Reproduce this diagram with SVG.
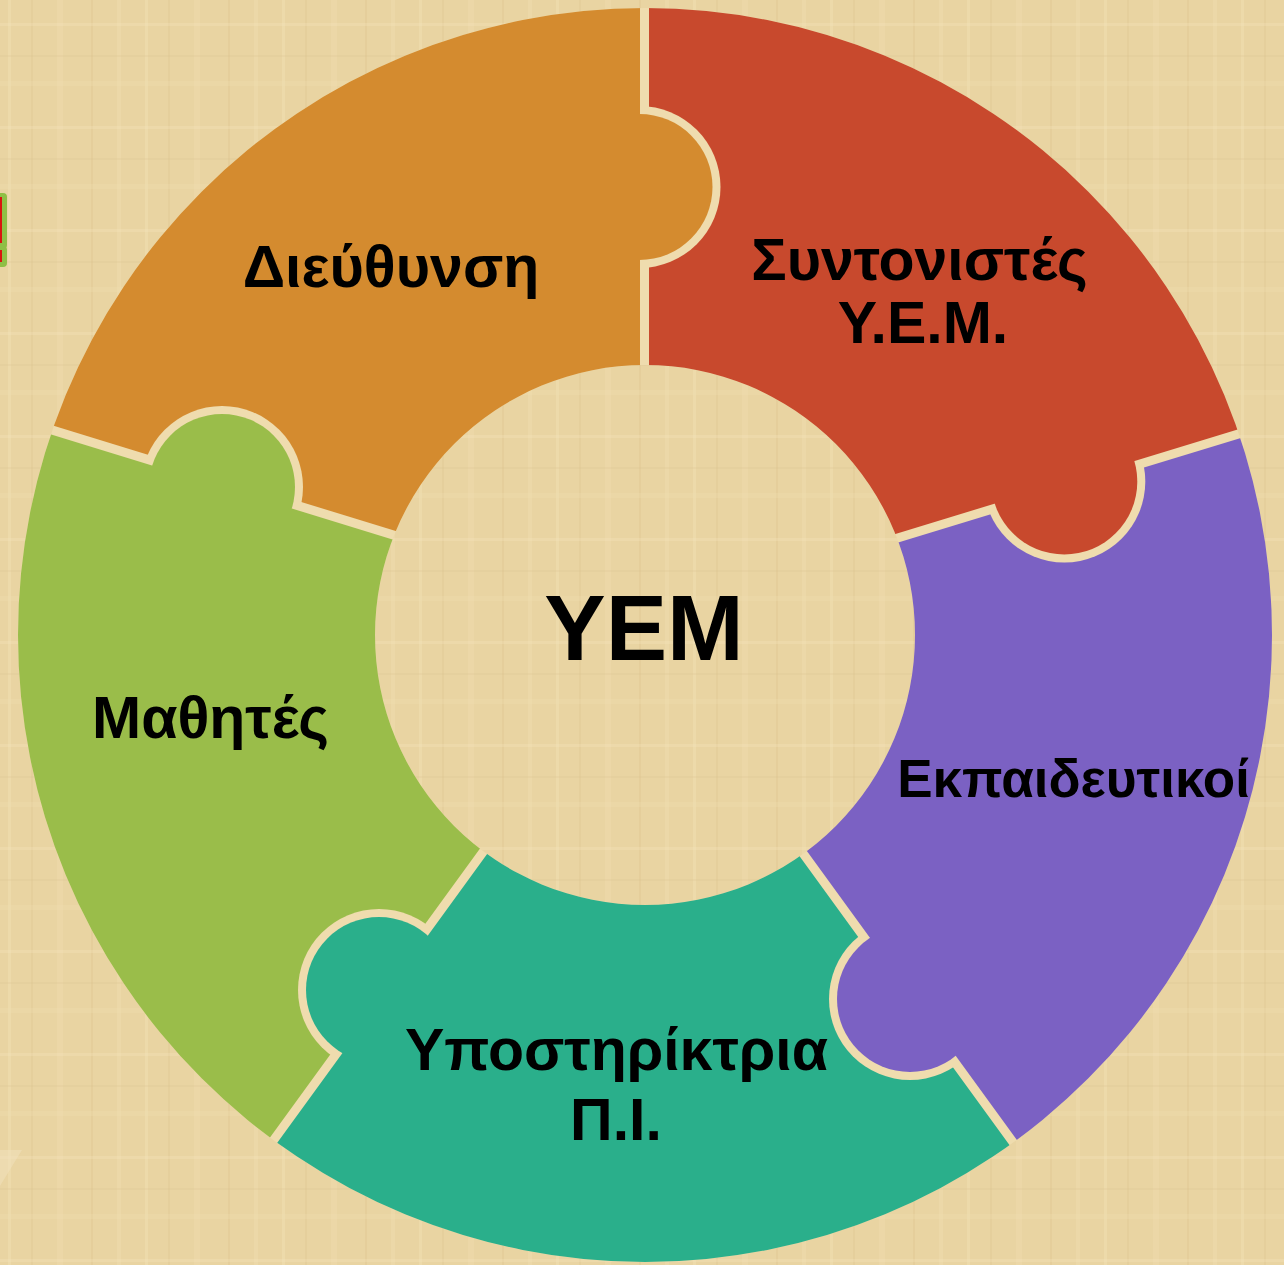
<svg xmlns="http://www.w3.org/2000/svg" width="1284" height="1265" viewBox="0 0 1284 1265">
<style>
.lbl{font-family:"Liberation Sans","Noto Sans",Arial,sans-serif;font-weight:bold;fill:#000;text-anchor:middle}
.s{font-size:59px}
.m{font-size:53px}
.big{font-size:92px}
</style>
<defs>
<pattern id="pap" width="137" height="103" patternUnits="userSpaceOnUse">
<rect width="137" height="103" fill="#e9d4a2"/>
<rect x="8" width="3" height="103" fill="#f4e4bb" opacity=".35"/>
<rect x="31" width="2" height="103" fill="#d9c08a" opacity=".25"/>
<rect x="57" width="6" height="103" fill="#f2e0b4" opacity=".3"/>
<rect x="91" width="2" height="103" fill="#d6bc86" opacity=".25"/>
<rect x="117" width="4" height="103" fill="#f3e2b6" opacity=".3"/>
<rect y="23" width="137" height="3" fill="#f5e6bf" opacity=".3"/>
<rect y="55" width="137" height="2" fill="#d8bf8a" opacity=".2"/>
<rect y="81" width="137" height="5" fill="#f1dfb2" opacity=".3"/>
</pattern>
<path id="ring" fill-rule="evenodd" d="M18,635 a627,627 0 1,0 1254,0 a627,627 0 1,0 -1254,0 Z M375,635 a270,270 0 1,0 540,0 a270,270 0 1,0 -540,0 Z"/>
<mask id="m-orange" maskUnits="userSpaceOnUse" x="-100" y="-100" width="1484" height="1465">
<polygon points="485.6,563.4 -88,386.95 -9,-249 644.5,-135 644.5,465" fill="#fff" stroke="#000" stroke-width="9"/>
<circle cx="639.5" cy="187" r="73" fill="#fff"/>
<circle cx="222" cy="487" r="81" fill="#000"/>
</mask>
<mask id="m-red" maskUnits="userSpaceOnUse" x="-100" y="-100" width="1484" height="1465">
<polygon points="644.5,465 644.5,-135 1299,-249 1375.7,392.05 801.9,567.2" fill="#fff" stroke="#000" stroke-width="9"/>
<circle cx="1064.3" cy="481.5" r="73" fill="#fff"/>
<circle cx="639.5" cy="187" r="81" fill="#000"/>
</mask>
<mask id="m-purple" maskUnits="userSpaceOnUse" x="-100" y="-100" width="1484" height="1465">
<polygon points="801.9,567.2 1375.7,392.05 1688,984 1100,1262 747.2,776.6" fill="#fff" stroke="#000" stroke-width="9"/>
<circle cx="910" cy="999" r="73" fill="#fff"/>
<circle cx="1064.3" cy="481.5" r="81" fill="#000"/>
</mask>
<mask id="m-teal" maskUnits="userSpaceOnUse" x="-100" y="-100" width="1484" height="1465">
<polygon points="747.2,776.6 1100,1262 645,1735 186.9,1259.5 539.6,774.1" fill="#fff" stroke="#000" stroke-width="9"/>
<circle cx="379" cy="990" r="73" fill="#fff"/>
<circle cx="910" cy="999" r="81" fill="#000"/>
</mask>
<mask id="m-green" maskUnits="userSpaceOnUse" x="-100" y="-100" width="1484" height="1465">
<polygon points="539.6,774.1 186.9,1259.5 -398,984 -88,386.95 485.6,563.4" fill="#fff" stroke="#000" stroke-width="9"/>
<circle cx="222" cy="487" r="73" fill="#fff"/>
<circle cx="379" cy="990" r="81" fill="#000"/>
</mask>
</defs>

<g id="background">
<rect width="1284" height="1265" fill="url(#pap)"/>
<polygon points="0,1150 22,1150 0,1186" fill="#f2e2bd" opacity=".5"/>
<rect x="-12" y="193" width="19" height="56" rx="4" fill="#8fbf45"/>
<rect x="-12" y="197" width="14" height="46" fill="#d9140f"/>
<rect x="-12" y="246" width="19" height="21" rx="4" fill="#8fbf45"/>
<rect x="-12" y="250" width="14" height="12" fill="#d9140f"/>
<use href="#ring" fill="#efdcae"/>
</g>

<g id="node-dieuthynsi">
<use href="#ring" fill="#D48B2F" mask="url(#m-orange)"/>
<text class="lbl s" x="391" y="287">Διεύθυνση</text>
</g>
<g id="node-syntonistes">
<use href="#ring" fill="#C8492D" mask="url(#m-red)"/>
<text class="lbl s" x="919.5" y="280">Συντονιστές</text>
<text class="lbl s" x="923" y="343">Υ.Ε.Μ.</text>
</g>
<g id="node-ekpaideutikoi">
<use href="#ring" fill="#7B61C3" mask="url(#m-purple)"/>
<text class="lbl m" x="1073.5" y="797">Εκπαιδευτικοί</text>
</g>
<g id="node-ypostiriktria">
<use href="#ring" fill="#2AAF8B" mask="url(#m-teal)"/>
<text class="lbl s" x="616.5" y="1070">Υποστηρίκτρια</text>
<text class="lbl s" x="616" y="1140">Π.Ι.</text>
</g>
<g id="node-mathites">
<use href="#ring" fill="#9ABD4A" mask="url(#m-green)"/>
<text class="lbl s" x="210.5" y="738">Μαθητές</text>
</g>
<g id="node-yem">
<text class="lbl big" x="644" y="660">ΥΕΜ</text>
</g>
</svg>
